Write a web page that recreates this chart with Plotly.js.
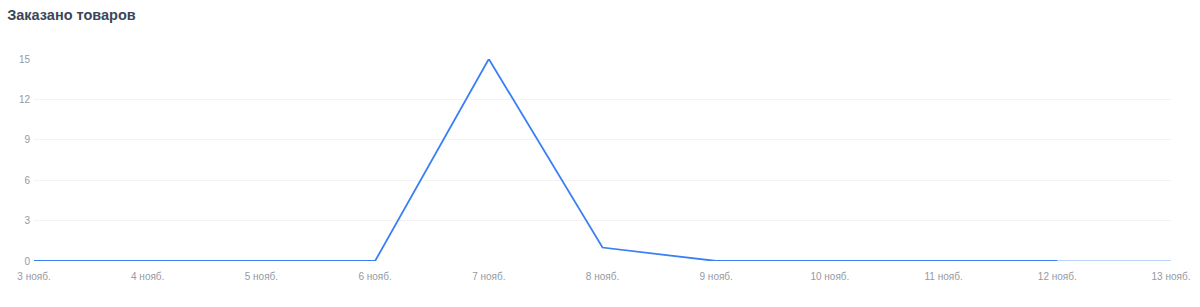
<!DOCTYPE html>
<html><head><meta charset="utf-8">
<script src="https://cdn.plot.ly/plotly-3.0.1.min.js"></script>
<style>html,body{margin:0;padding:0;background:#fff}#c{width:1200px;height:307px}</style>
</head><body><div id="c"></div>
<script>
var categories = ["3 нояб.","4 нояб.","5 нояб.","6 нояб.","7 нояб.","8 нояб.","9 нояб.","10 нояб.","11 нояб.","12 нояб.","13 нояб."];
var orders = [0,0,0,0,15,1,0,0,0,0];
var ordersPartial = [0,0];
var yTicks = [0,3,6,9,12,15];

var xMain = categories.slice(0, orders.length);
var xPart = categories.slice(orders.length - 1, orders.length - 1 + ordersPartial.length);

var traces = [
  {x: xPart, y: ordersPartial, type: 'scatter', mode: 'lines', line: {color: '#b9d2f6', width: 2}, hoverinfo: 'x+y'},
  {x: xMain, y: orders, type: 'scatter', mode: 'lines', line: {color: '#3b7ff5', width: 1.8}, hoverinfo: 'x+y'}
];
var layout = {
  width: 1200, height: 307,
  margin: {l: 34, r: 29, t: 59, b: 46},
  paper_bgcolor: '#fff', plot_bgcolor: '#fff',
  showlegend: false,
  font: {family: 'Liberation Sans, Arial, sans-serif', color: '#959aa3', size: 10},
  title: {text: '<b>Заказано товаров</b>', x: 0.006, xanchor: 'left', y: 0.95, yanchor: 'middle',
          font: {size: 14.5, color: '#3b4759', family: 'Liberation Sans, Arial, sans-serif'}},
  xaxis: {type: 'category', categoryorder: 'array', categoryarray: categories,
          range: [0, categories.length - 1], showgrid: false, zeroline: false, showline: false,
          ticks: '', ticklabelstandoff: 8, tickfont: {size: 10, color: '#959aa3'}, fixedrange: true},
  yaxis: {range: [0, 15], tickvals: yTicks, showgrid: true, gridcolor: '#f3f3f3', gridwidth: 1,
          zeroline: false, showline: false, ticks: '', ticklabelstandoff: 3,
          tickfont: {size: 10, color: '#959aa3'}, fixedrange: true}
};
Plotly.newPlot('c', traces, layout, {displayModeBar: false, staticPlot: true});
</script></body></html>
